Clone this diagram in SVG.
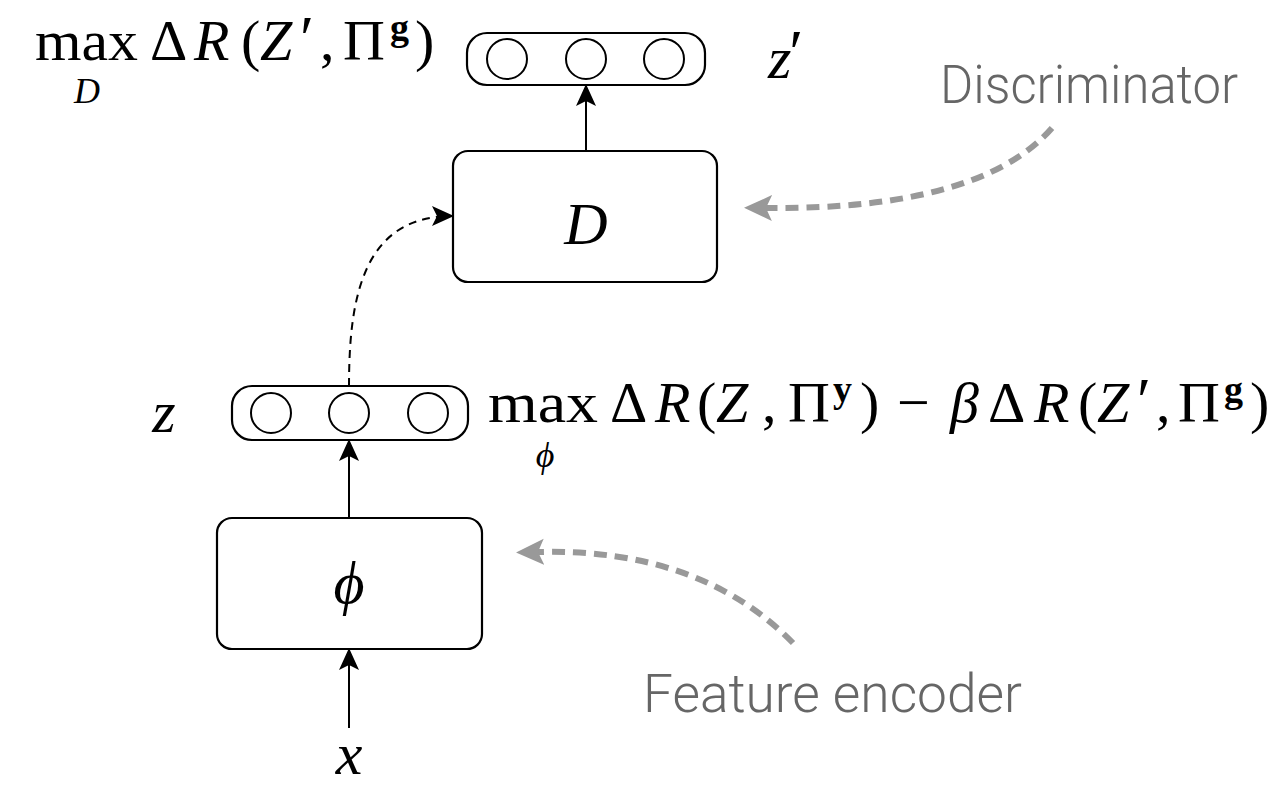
<svg xmlns="http://www.w3.org/2000/svg" width="1281" height="787" viewBox="0 0 1281 787">
<style>
.box{fill:#fff;stroke:#000;stroke-width:2.2}
.neuron{fill:#fff;stroke:#000;stroke-width:2}
.edge{fill:none;stroke:#000;stroke-width:2}
.dash{stroke-dasharray:8 6}
.gray{fill:none;stroke:#999;stroke-width:6;stroke-dasharray:13 8}
.m{font-family:"Liberation Serif","DejaVu Serif",serif;fill:#000}
.i{font-style:italic}
.b{font-weight:bold}
.lbl{font-family:Roboto,"Liberation Sans",sans-serif;font-weight:300;fill:#666}
</style>
<defs>
<marker id="ah" viewBox="0 0 22 22" refX="20" refY="11" markerWidth="22" markerHeight="22" markerUnits="userSpaceOnUse" orient="auto">
<path d="M0,1 L22,11 L0,21 L5,11 Z" fill="#000"/>
</marker>
<marker id="gah" viewBox="0 0 28 28" refX="6" refY="14" markerWidth="28" markerHeight="28" markerUnits="userSpaceOnUse" orient="auto">
<path d="M28,14 L0,1 L6,14 L0,27 Z" fill="#999"/>
</marker>
</defs>

<g id="connectors">
<path class="edge" d="M349,728 L349,650" marker-end="url(#ah)"/>
<path class="edge" d="M349,518 L349,441" marker-end="url(#ah)"/>
<path class="edge" d="M586,151 L586,86" marker-end="url(#ah)"/>
<path class="edge dash" d="M349,386 C349,300 362,216 452,216" marker-end="url(#ah)"/>
<path class="gray" d="M1052,128 Q980,210 766,208" marker-end="url(#gah)"/>
<path class="gray" d="M793,643 Q700,548 538,552" marker-end="url(#gah)"/>
</g>

<g id="node-x">
<text class="m i" x="349" y="774" font-size="60" text-anchor="middle">x</text>
</g>

<g id="node-phi">
<rect class="box" x="217" y="518" width="265" height="131" rx="15"/>
<text class="m i" x="349" y="603" font-size="60" text-anchor="middle">ϕ</text>
</g>

<g id="node-z">
<rect class="box" x="232" y="386" width="236" height="54" rx="20"/>
<circle class="neuron" cx="271" cy="413" r="20"/>
<circle class="neuron" cx="349" cy="413" r="20"/>
<circle class="neuron" cx="428" cy="413" r="20"/>
<text class="m i" x="164" y="432" font-size="60" text-anchor="middle">z</text>
</g>

<g id="node-D">
<rect class="box" x="453" y="151" width="264" height="131" rx="15"/>
<text class="m i" x="586" y="244" font-size="60" text-anchor="middle">D</text>
</g>

<g id="node-zprime">
<rect class="box" x="467" y="33" width="238" height="52" rx="20"/>
<circle class="neuron" cx="507" cy="59" r="20"/>
<circle class="neuron" cx="586" cy="59" r="20"/>
<circle class="neuron" cx="664" cy="59" r="20"/>
<text class="m i" x="768" y="78" font-size="60">z<tspan font-size="64" font-style="normal" dx="-2" dy="-4">′</tspan></text>
</g>

<g id="formula-D">
<text class="m" font-size="58" y="60"><tspan x="35" textLength="103" lengthAdjust="spacingAndGlyphs">max</tspan><tspan x="150">Δ</tspan><tspan x="194" class="i">R</tspan><tspan x="241">(</tspan><tspan x="260" class="i">Z</tspan><tspan x="300" font-size="64">′</tspan><tspan x="320">,</tspan><tspan x="343">Π</tspan><tspan x="390" y="40" font-size="38" class="b">g</tspan><tspan x="415" y="60">)</tspan></text>
<text class="m i" x="87" y="103" font-size="36" text-anchor="middle">D</text>
</g>

<g id="formula-phi">
<text class="m" font-size="58" y="422"><tspan x="488" textLength="110" lengthAdjust="spacingAndGlyphs">max</tspan><tspan x="610">Δ</tspan><tspan x="655" class="i">R</tspan><tspan x="697">(</tspan><tspan x="716" class="i">Z</tspan><tspan x="762">,</tspan><tspan x="788">Π</tspan><tspan x="833" y="402" font-size="38" class="b">y</tspan><tspan x="860" y="422">)</tspan><tspan x="897">−</tspan><tspan x="950" class="i">β</tspan><tspan x="988">Δ</tspan><tspan x="1034" class="i">R</tspan><tspan x="1078">(</tspan><tspan x="1097" class="i">Z</tspan><tspan x="1137" font-size="64">′</tspan><tspan x="1156">,</tspan><tspan x="1178">Π</tspan><tspan x="1224" y="402" font-size="38" class="b">g</tspan><tspan x="1250" y="422">)</tspan></text>
<text class="m i" x="545" y="467" font-size="36" text-anchor="middle">ϕ</text>
</g>

<text class="lbl" x="940" y="103" font-size="54" textLength="298" lengthAdjust="spacingAndGlyphs">Discriminator</text>
<text class="lbl" x="643" y="712" font-size="54" textLength="379" lengthAdjust="spacingAndGlyphs">Feature encoder</text>
</svg>
